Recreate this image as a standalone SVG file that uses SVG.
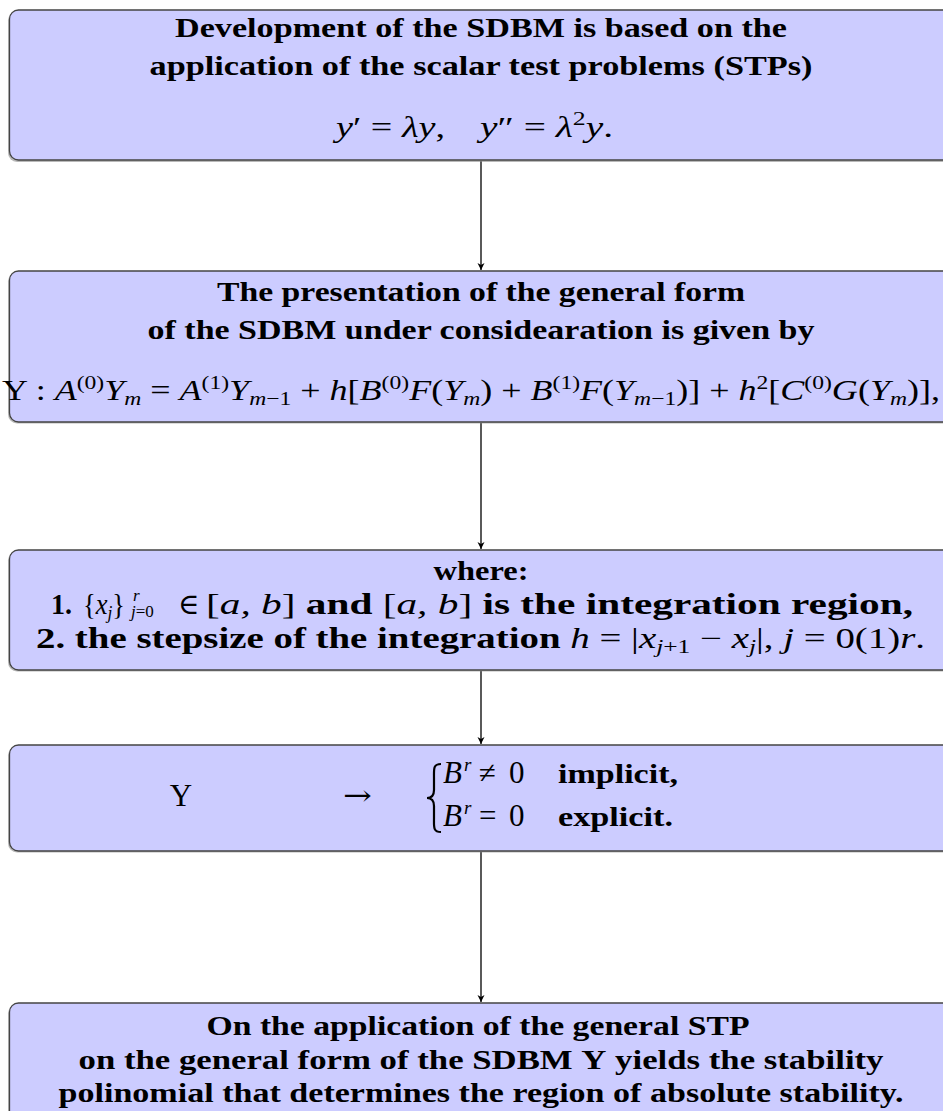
<svg xmlns="http://www.w3.org/2000/svg" width="943" height="1111" viewBox="0 0 943 1111">
<defs>
<marker id="arr" markerWidth="8" markerHeight="8" refX="7" refY="4" orient="auto" markerUnits="userSpaceOnUse">
<path d="M0,0.5 L7,4 L0,7.5 L2,4 Z" fill="#000"/>
</marker>
</defs>
<style>
.box{fill:#ccccff;stroke:#444;stroke-width:1.3}
.sh{fill:#8a8a8a;opacity:0.6}
.t{font-family:"Liberation Serif","DejaVu Serif",serif;font-weight:bold;font-size:27px;fill:#000;text-anchor:middle}
.ts{text-anchor:start}
.m{font-family:"Liberation Serif","DejaVu Serif",serif;font-size:29px;fill:#000}
.i{font-style:italic}
.s{font-size:19px}
.b{font-weight:bold}
.c{stroke:#000;stroke-width:1.3;fill:none}
</style>
<g id="connectors">
<line class="c" x1="481" y1="161" x2="481" y2="270" marker-end="url(#arr)"/>
<line class="c" x1="481" y1="423" x2="481" y2="549" marker-end="url(#arr)"/>
<line class="c" x1="481" y1="671" x2="481" y2="744" marker-end="url(#arr)"/>
<line class="c" x1="481" y1="852" x2="481" y2="1002" marker-end="url(#arr)"/>
</g>
<g id="node1">
<rect class="sh" x="8" y="11.5" width="950" height="150.5" rx="9"/>
<rect class="box" x="9.5" y="10" width="950" height="150" rx="9"/>
<text class="t" x="481" y="37" textLength="612" lengthAdjust="spacingAndGlyphs">Development of the SDBM is based on the</text>
<text class="t" x="481" y="75" textLength="663" lengthAdjust="spacingAndGlyphs">application of the scalar test problems (STPs)</text>
<text class="m" x="336" y="137" textLength="109" lengthAdjust="spacingAndGlyphs"><tspan class="i">y</tspan>′ = <tspan class="i">λy</tspan>,</text>
<text class="m" x="480" y="137" textLength="133" lengthAdjust="spacingAndGlyphs"><tspan class="i">y</tspan>″ = <tspan class="i">λ</tspan><tspan class="s" dy="-12">2</tspan><tspan class="i" dy="12">y</tspan>.</text>
</g>
<g id="node2">
<rect class="sh" x="8" y="272.5" width="950" height="151" rx="9"/>
<rect class="box" x="9.5" y="271" width="950" height="151" rx="9"/>
<text class="t" x="481" y="301" textLength="528" lengthAdjust="spacingAndGlyphs">The presentation of the general form</text>
<text class="t" x="481" y="339" textLength="667" lengthAdjust="spacingAndGlyphs">of the SDBM under considearation is given by</text>
<text class="m" x="2" y="400" textLength="938" lengthAdjust="spacingAndGlyphs">Υ : <tspan class="i">A</tspan><tspan class="s" dy="-11">(0)</tspan><tspan class="i" dy="11">Y</tspan><tspan class="s i" dy="5">m</tspan><tspan dy="-5"> = </tspan><tspan class="i">A</tspan><tspan class="s" dy="-11">(1)</tspan><tspan class="i" dy="11">Y</tspan><tspan class="s" dy="5"><tspan class="i">m</tspan>−1</tspan><tspan dy="-5"> + </tspan><tspan class="i">h</tspan>[<tspan class="i">B</tspan><tspan class="s" dy="-11">(0)</tspan><tspan class="i" dy="11">F</tspan>(<tspan class="i">Y</tspan><tspan class="s i" dy="5">m</tspan><tspan dy="-5">) + </tspan><tspan class="i">B</tspan><tspan class="s" dy="-11">(1)</tspan><tspan class="i" dy="11">F</tspan>(<tspan class="i">Y</tspan><tspan class="s" dy="5"><tspan class="i">m</tspan>−1</tspan><tspan dy="-5">)] + </tspan><tspan class="i">h</tspan><tspan class="s" dy="-11">2</tspan><tspan dy="11">[</tspan><tspan class="i">C</tspan><tspan class="s" dy="-11">(0)</tspan><tspan class="i" dy="11">G</tspan>(<tspan class="i">Y</tspan><tspan class="s i" dy="5">m</tspan><tspan dy="-5">)],</tspan></text>
</g>
<g id="node3">
<rect class="sh" x="8" y="551.5" width="950" height="120" rx="9"/>
<rect class="box" x="9.5" y="550" width="950" height="120" rx="9"/>
<text class="t" x="481" y="580" textLength="95" lengthAdjust="spacingAndGlyphs">where:</text>
<text class="t ts" x="51" y="614" textLength="21" lengthAdjust="spacingAndGlyphs" style="font-size:29px">1.</text>
<text class="m" x="83" y="614" textLength="42" lengthAdjust="spacingAndGlyphs">{<tspan class="i">x</tspan><tspan class="s i" dy="5">j</tspan><tspan dy="-5">}</tspan></text>
<text class="m i" x="133" y="601" style="font-size:17px">r</text>
<text class="m" x="131" y="617" style="font-size:17px"><tspan class="i">j</tspan>=0</text>
<text class="m" x="178" y="614">∈</text>
<text class="m" x="206" y="614" textLength="707" lengthAdjust="spacingAndGlyphs">[<tspan class="i">a, b</tspan>] <tspan class="b">and</tspan> [<tspan class="i">a, b</tspan>] <tspan class="b">is the integration region,</tspan></text>
<text class="m" x="36" y="648" textLength="889" lengthAdjust="spacingAndGlyphs"><tspan class="b">2.  the stepsize of the integration</tspan> <tspan class="i">h</tspan> = |<tspan class="i">x</tspan><tspan class="s" dy="5"><tspan class="i">j</tspan>+1</tspan><tspan dy="-5"> − </tspan><tspan class="i">x</tspan><tspan class="s i" dy="5">j</tspan><tspan dy="-5">|, </tspan><tspan class="i">j</tspan> = 0(1)<tspan class="i">r</tspan>.</text>
</g>
<g id="node4">
<rect class="sh" x="8" y="746.5" width="950" height="106" rx="9"/>
<rect class="box" x="9.5" y="745" width="950" height="106" rx="9"/>
<text class="m" x="181" y="806" text-anchor="middle" style="font-size:31px">Υ</text>
<text class="m" x="343" y="805" textLength="29" lengthAdjust="spacingAndGlyphs" style="font-family:'DejaVu Serif',serif;font-size:28px">→</text>
<path d="M441,764 C433,764 434,769 434,778 L434,790 C434,796 431,798 427,798 C431,798 434,800 434,806 L434,818 C434,827 433,832 441,832" fill="none" stroke="#000" stroke-width="2.2"/>
<text class="m i" x="443" y="783" style="font-size:31px">B</text>
<text class="m i s" x="464" y="771">r</text>
<text class="m" x="479" y="783" style="font-size:31px">≠</text>
<text class="m" x="509" y="783" style="font-size:31px">0</text>
<text class="t ts" x="558" y="783" textLength="120" lengthAdjust="spacingAndGlyphs">implicit,</text>
<text class="m i" x="443" y="826" style="font-size:31px">B</text>
<text class="m i s" x="464" y="814">r</text>
<text class="m" x="479" y="826" style="font-size:31px">=</text>
<text class="m" x="509" y="826" style="font-size:31px">0</text>
<text class="t ts" x="558" y="826" textLength="115" lengthAdjust="spacingAndGlyphs">explicit.</text>
</g>
<g id="node5">
<rect class="sh" x="8" y="1004.5" width="950" height="150" rx="9"/>
<rect class="box" x="9.5" y="1003" width="950" height="150" rx="9"/>
<text class="t" x="478" y="1035" textLength="543" lengthAdjust="spacingAndGlyphs">On the application of the general STP</text>
<text class="t" x="481" y="1069" textLength="805" lengthAdjust="spacingAndGlyphs">on the general form of the SDBM Υ yields the stability</text>
<text class="t" x="481" y="1102" textLength="845" lengthAdjust="spacingAndGlyphs">polinomial that determines the region of absolute stability.</text>
</g>
</svg>
